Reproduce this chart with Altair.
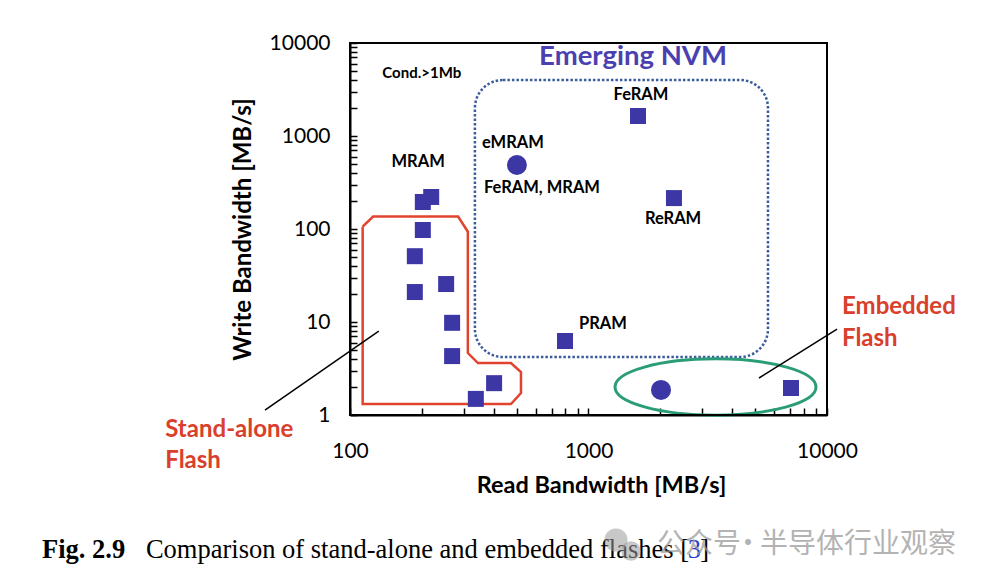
import altair as alt
import pandas as pd

# ---------------- data ----------------
sq_read = [202, 219, 202, 187, 187, 253, 268, 268, 402, 337, 1613, 2282, 797, 7063]
sq_write = [195, 221, 97.5, 51, 21, 25.6, 9.8, 4.3, 2.2, 1.49, 1641, 215, 6.25, 1.95]
circ_read = [501, 2014]
circ_write = [488, 1.86]

label_text = ["MRAM", "eMRAM", "FeRAM, MRAM", "FeRAM", "ReRAM", "PRAM"]
label_read = [193, 482, 638, 1660, 2262, 1150]
label_write = [525, 841, 276, 2760, 128, 9.5]

cond_text = ["Cond.>1Mb"]
cond_read = [200]
cond_write = [4756]

title_text = ["Emerging NVM"]
title_read = [1537]
title_write = [7065]

red_text = ["Stand-alone", "Flash", "Embedded", "Flash"]
red_read = [16.8, 16.8, 11560, 11560]
red_write = [0.69, 0.32, 14.5, 6.57]

# stand-alone flash outline (polygon)
sa_read = [113, 125, 284, 312, 312, 344, 473, 521, 521, 473, 113, 113]
sa_write = [106, 136, 136, 93.5, 4.64, 3.62, 3.62, 2.90, 1.72, 1.31, 1.31, 106]

# emerging NVM rounded box
nvm_read = [334]
nvm_read2 = [5656]
nvm_write = [4.2]
nvm_write2 = [4000]

# embedded flash ellipse (centre)
emb_read = [3408]
emb_write = [2.0]

# callout lines
call_id = ["sa", "sa", "emb", "emb"]
call_read = [132, 44, 5188, 11020]
call_write = [8.0, 1.13, 2.5, 8.4]

# plot frame = axis domains
frame_read = [100]
frame_read2 = [10000]
frame_write = [1]
frame_write2 = [10000]

x_ticks = [100, 200, 300, 400, 500, 600, 700, 800, 900,
           1000, 2000, 3000, 4000, 5000, 6000, 7000, 8000, 9000, 10000]
y_ticks = [1, 2, 3, 4, 5, 6, 7, 8, 9,
           10, 20, 30, 40, 50, 60, 70, 80, 90,
           100, 200, 300, 400, 500, 600, 700, 800, 900,
           1000, 2000, 3000, 4000, 5000, 6000, 7000, 8000, 9000, 10000]
major = "(datum.value == 1 || datum.value == 10 || datum.value == 100 || datum.value == 1000 || datum.value == 10000) ? format(datum.value, 'd') : ''"

FONT = "Lato"
BLUE = "#3d37a6"

xs = alt.Scale(type="log", domain=[100, 10000])
ys = alt.Scale(type="log", domain=[1, 10000])

x_axis = alt.Axis(values=x_ticks, labelExpr=major, labelOverlap=False, labelFlush=False,
                  grid=False, tickSize=alt.ExprRef(expr="-7"), tickColor="black", tickWidth=1.5,
                  domainColor="black", domainWidth=2, labelPadding=32,
                  labelFont=FONT, labelFontSize=21, labelColor="black",
                  title="Read Bandwidth [MB/s]", titleFont=FONT, titleFontSize=23.5,
                  titleFontWeight="bold", titleColor="black", titlePadding=12, titleX=251)
y_axis = alt.Axis(values=y_ticks, labelExpr=major, labelOverlap=False, labelFlush=False,
                  grid=False, tickSize=alt.ExprRef(expr="-7"), tickColor="black", tickWidth=1.5,
                  domainColor="black", domainWidth=2, labelPadding=27,
                  labelFont=FONT, labelFontSize=21, labelColor="black",
                  title="Write Bandwidth [MB/s]", titleFont=FONT, titleFontSize=24,
                  titleFontWeight="bold", titleColor="black", titlePadding=14)


def X(f="x"):
    return alt.X(f, type="quantitative", scale=xs, axis=x_axis)


def Y(f="y"):
    return alt.Y(f, type="quantitative", scale=ys, axis=y_axis)


frame = alt.Chart(pd.DataFrame({"x": frame_read, "x2": frame_read2, "y": frame_write, "y2": frame_write2})).mark_rect(
    fillOpacity=0, stroke="black", strokeWidth=2
).encode(x=X(), x2="x2:Q", y=Y(), y2="y2:Q")

squares = alt.Chart(pd.DataFrame({"x": sq_read, "y": sq_write})).mark_square(
    size=256, color=BLUE, opacity=1).encode(x=X(), y=Y())
circles = alt.Chart(pd.DataFrame({"x": circ_read, "y": circ_write})).mark_circle(
    size=400, color=BLUE, opacity=1).encode(x=X(), y=Y())

labels = alt.Chart(pd.DataFrame({"x": label_read, "y": label_write, "t": label_text})).mark_text(
    font=FONT, fontSize=16.5, fontWeight="bold", color="black", align="center", baseline="middle"
).encode(x=X(), y=Y(), text="t:N")

cond = alt.Chart(pd.DataFrame({"x": cond_read, "y": cond_write, "t": cond_text})).mark_text(
    font=FONT, fontSize=15, fontWeight="bold", color="black", align="center", baseline="middle"
).encode(x=X(), y=Y(), text="t:N")

nvm_title = alt.Chart(pd.DataFrame({"x": title_read, "y": title_write, "t": title_text})).mark_text(
    font=FONT, fontSize=27.5, fontWeight="bold", color="#4a40b0", align="center", baseline="middle"
).encode(x=X(), y=Y(), text="t:N")

red_labels = alt.Chart(pd.DataFrame({"x": red_read, "y": red_write, "t": red_text})).mark_text(
    font=FONT, fontSize=24, fontWeight="bold", color="#d9402c", align="left", baseline="middle"
).encode(x=X(), y=Y(), text="t:N")

sa_outline = alt.Chart(pd.DataFrame({"x": sa_read, "y": sa_write, "o": list(range(len(sa_read)))})).mark_line(
    color="#e2432f", strokeWidth=2.5, strokeJoin="miter"
).encode(x=X(), y=Y(), order="o:Q")

nvm_box = alt.Chart(pd.DataFrame({"x": nvm_read, "x2": nvm_read2, "y": nvm_write, "y2": nvm_write2})).mark_rect(
    fillOpacity=0, stroke="#3b5c9c", strokeWidth=2.5, strokeDash=[2.5, 2], cornerRadius=28
).encode(x=X(), x2="x2:Q", y=Y(), y2="y2:Q")

ellipse = alt.Chart(pd.DataFrame({"x": emb_read, "y": emb_write})).mark_point(
    shape="M -1 0 A 1 0.28 0 1 0 1 0 A 1 0.28 0 1 0 -1 0 Z", size=40401, filled=False,
    stroke="#2a9d78", strokeWidth=3, opacity=1
).encode(x=X(), y=Y())

callouts = alt.Chart(pd.DataFrame({"x": call_read, "y": call_write, "g": call_id})).mark_line(
    color="black", strokeWidth=1.5
).encode(x=X(), y=Y(), detail="g:N")

# ---------------- caption & watermark (page decoration) ----------------
SERIF = "Liberation Serif"
cap_bold = alt.Chart(pd.DataFrame({"t": ["Fig. 2.9"]})).mark_text(
    font=SERIF, fontSize=26.5, fontWeight="bold", color="black", align="left", baseline="alphabetic"
).encode(x=alt.value(-308), y=alt.value(515), text="t:N")
cap_main = alt.Chart(pd.DataFrame({"t": ["Comparison of stand-alone and embedded flashes ["]})).mark_text(
    font=SERIF, fontSize=26.5, color="black", align="right", baseline="alphabetic"
).encode(x=alt.value(339), y=alt.value(515), text="t:N")
cap_ref = alt.Chart(pd.DataFrame({"t": ["3"]})).mark_text(
    font=SERIF, fontSize=26.5, color="#2a3fd0", align="right", baseline="alphabetic"
).encode(x=alt.value(351), y=alt.value(515), text="t:N")
cap_end = alt.Chart(pd.DataFrame({"t": ["]"]})).mark_text(
    font=SERIF, fontSize=26.5, color="black", align="right", baseline="alphabetic"
).encode(x=alt.value(359), y=alt.value(515), text="t:N")
wm_icon1 = alt.Chart(pd.DataFrame({"r": [0]})).mark_circle(color="#9a9a9a", opacity=0.55, size=530).encode(
    x=alt.value(266), y=alt.value(497))
wm_icon2 = alt.Chart(pd.DataFrame({"r": [1]})).mark_circle(color="#9a9a9a", opacity=0.55, size=380).encode(
    x=alt.value(281), y=alt.value(508))
wm_a = alt.Chart(pd.DataFrame({"t": ["公众号"]})).mark_text(
    font="Noto Sans CJK SC", fontSize=28, color="#9a9a9a", opacity=0.75, align="left", baseline="middle"
).encode(x=alt.value(307), y=alt.value(502), text="t:N")
wm_b = alt.Chart(pd.DataFrame({"t": ["·"]})).mark_text(
    font="Noto Sans CJK SC", fontSize=28, color="#9a9a9a", opacity=0.75, align="center", baseline="middle"
).encode(x=alt.value(398), y=alt.value(502), text="t:N")
wm_c = alt.Chart(pd.DataFrame({"t": ["半导体行业观察"]})).mark_text(
    font="Noto Sans CJK SC", fontSize=28, color="#9a9a9a", opacity=0.75, align="left", baseline="middle"
).encode(x=alt.value(410), y=alt.value(502), text="t:N")

chart = alt.layer(
    nvm_box, ellipse, sa_outline, callouts, squares, circles, labels, cond, nvm_title, red_labels,
    frame, cap_bold, cap_main, cap_ref, cap_end, wm_icon1, wm_icon2, wm_a, wm_b, wm_c
).properties(
    width=477, height=372,
    autosize="none",
    padding={"left": 342, "top": 35, "right": 153, "bottom": 162},
).configure_view(stroke="black", strokeWidth=2).configure(background="white")

chart.save("out.html", embed_options={"renderer": "svg", "actions": False})
